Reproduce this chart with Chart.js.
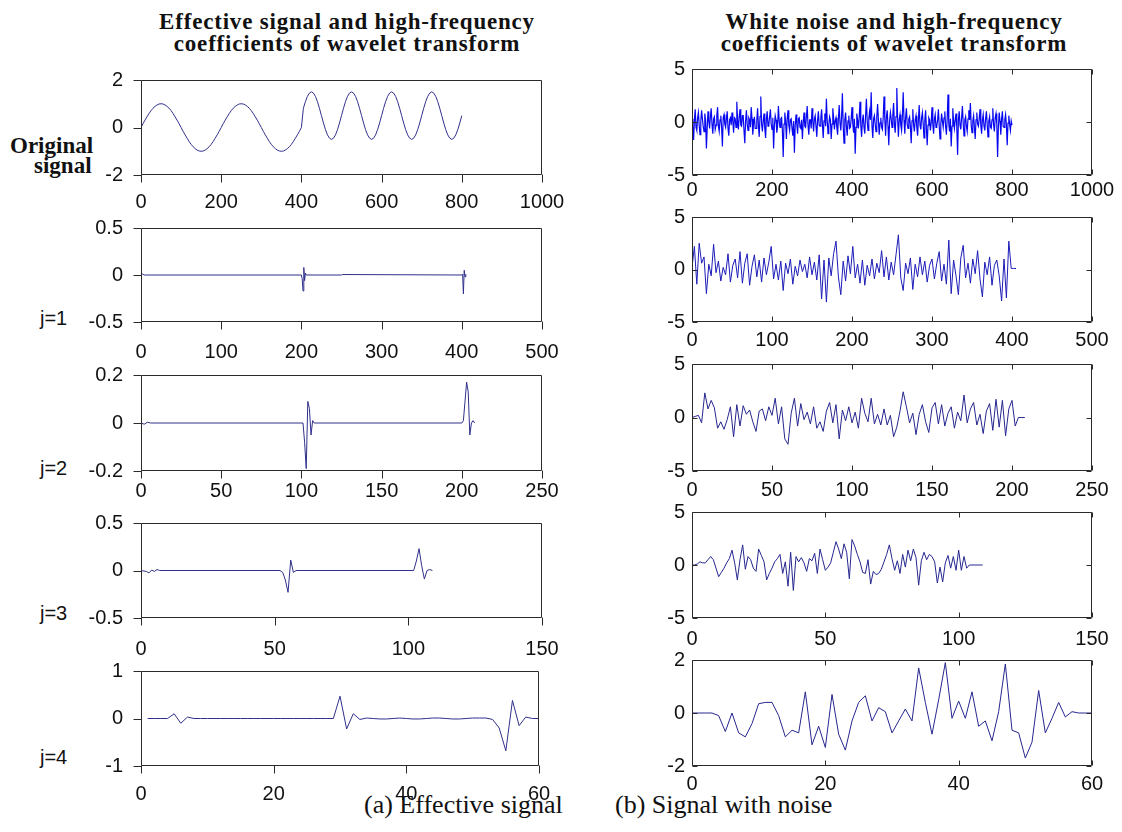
<!DOCTYPE html>
<html>
<head>
<meta charset="utf-8">
<script src="https://cdn.jsdelivr.net/npm/chart.js@4.4.1/dist/chart.umd.min.js"></script>
<style>
  body { margin: 0; background: #fff; width: 1122px; height: 832px; position: relative; overflow: hidden; }
  canvas { position: absolute; }
  .txt { position: absolute; white-space: nowrap; color: #111; }
  .ttl { font: bold 23px "Liberation Serif", "Times New Roman", serif; line-height: 22px; text-align: center; width: 560px; letter-spacing: 0.8px; }
  .side { font: bold 23px "Liberation Serif", "Times New Roman", serif; line-height: 22px; }
  .lev { font: 20px "Liberation Sans", Arial, sans-serif; line-height: 20px; }
  .cap { font: 26px "Liberation Serif", "Times New Roman", serif; line-height: 26px; }
</style>
</head>
<body>
<div class="txt ttl" style="left:67px;top:11px">Effective signal and high-frequency<br>coefficients of wavelet transform</div>
<div class="txt ttl" style="left:614px;top:11px">White noise and high-frequency<br>coefficients of wavelet transform</div>
<div class="txt side" style="left:10px;top:135px">Original</div>
<div class="txt side" style="left:34px;top:155px">signal</div>
<div class="txt lev" style="left:40px;top:308px">j=1</div>
<div class="txt lev" style="left:40px;top:458px">j=2</div>
<div class="txt lev" style="left:40px;top:603px">j=3</div>
<div class="txt lev" style="left:40px;top:747px">j=4</div>
<div class="txt cap" style="left:364px;top:792px">(a) Effective signal</div>
<div class="txt cap" style="left:615px;top:792px">(b) Signal with noise</div>

<script>
// original signal, one value every 5 samples (0..800)
const origSignal = [
  0, 0.16, 0.31, 0.45, 0.59, 0.71, 0.81, 0.89, 0.95, 0.99, 1, 0.99, 0.95, 0.89, 0.81, 0.71, 0.59, 0.45, 0.31, 0.16,
  0, -0.16, -0.31, -0.45, -0.59, -0.71, -0.81, -0.89, -0.95, -0.99, -1, -0.99, -0.95, -0.89, -0.81, -0.71, -0.59, -0.45, -0.31, -0.16,
  0, 0.16, 0.31, 0.45, 0.59, 0.71, 0.81, 0.89, 0.95, 0.99, 1, 0.99, 0.95, 0.89, 0.81, 0.71, 0.59, 0.45, 0.31, 0.16,
  0, -0.16, -0.31, -0.45, -0.59, -0.71, -0.81, -0.89, -0.95, -0.99, -1, -0.99, -0.95, -0.89, -0.81, -0.71, -0.59, -0.45, -0.31, -0.16,
  0,
  0.81, 1.09, 1.31, 1.45, 1.5, 1.45, 1.31, 1.09, 0.81, 0.5, 0.19, -0.09, -0.31, -0.45, -0.5, -0.45, -0.31, -0.09, 0.19, 0.5,
  0.81, 1.09, 1.31, 1.45, 1.5, 1.45, 1.31, 1.09, 0.81, 0.5, 0.19, -0.09, -0.31, -0.45, -0.5, -0.45, -0.31, -0.09, 0.19, 0.5,
  0.81, 1.09, 1.31, 1.45, 1.5, 1.45, 1.31, 1.09, 0.81, 0.5, 0.19, -0.09, -0.31, -0.45, -0.5, -0.45, -0.31, -0.09, 0.19, 0.5,
  0.81, 1.09, 1.31, 1.45, 1.5, 1.45, 1.31, 1.09, 0.81, 0.5, 0.19, -0.09, -0.31, -0.45, -0.5, -0.45, -0.31, -0.09, 0.19, 0.5
];

// detail coefficients of the clean signal (sample index / value)
const effJ1T = [0, 2, 4, 200, 201, 202, 203, 204, 205, 206, 250, 251, 400, 401, 402, 403, 404, 405];
const effJ1V = [0, 0.01, 0, 0, -0.04, -0.17, 0.08, -0.06, 0.02, 0, 0, 0.005, 0, 0.01, -0.2, 0.05, -0.02, 0.01];
const effJ2T = [0, 2, 4, 6, 101, 102, 103, 104, 105, 106, 107, 108, 200, 201, 202, 203, 204, 205, 206, 207, 208];
const effJ2V = [0, -0.005, 0.003, 0, 0, -0.08, -0.19, 0.09, 0.06, -0.05, 0.01, 0, 0, 0.01, 0.09, 0.17, 0.13, -0.05, 0, 0.01, 0];
const effJ3T = [0, 2, 3, 4, 5, 6, 7, 52, 53, 54, 55, 56, 57, 58, 102, 103, 104, 105, 106, 107, 108, 109];
const effJ3V = [0, -0.01, -0.025, 0.005, -0.01, 0.01, 0, 0, -0.02, -0.1, -0.23, 0.11, -0.02, 0, 0, 0.1, 0.23, 0.05, -0.09, 0, 0.01, 0];
// j=4, samples 1..60
const effJ4 = [
  0, 0, 0, 0, 0.1, -0.1, 0.03, 0, 0, 0,
  0, 0, 0, 0, 0, 0, 0, 0, 0, 0,
  0, 0, 0, 0, 0, 0, 0, 0, 0, 0.47,
  -0.22, 0.1, -0.02, 0.01, 0, -0.01, -0.01, 0, 0.01, 0,
  -0.01, -0.01, 0, 0.01, 0.01, 0, -0.01, -0.01, 0, 0.01,
  0.01, 0.01, -0.02, -0.2, -0.68, 0.38, -0.15, 0.03, 0, 0
];

// noisy signal, one value every 2 samples (0..800)
const noisy = [
  0.3, -0.4, -1.7, 0.2, 1.2, -0.5, -0.8, 0.4, 0.9, -0.3, -1.2, 0.1, 1.1, 0.3, -0.4, -0.9, 0.8, 0.2, -2.5, -0.6,
  1.0, 0.1, -0.6, 0.5, 1.3, -0.2, -1.1, 0.3, 0.5, -0.7, -0.3, 0.6, 1.4, -0.4, -0.9, 0.2, 0.6, -0.5, -2.3, 0.4,
  0.7, -0.2, -0.5, 0.3, 1.0, -0.6, -1.3, 0.2, 0.4, -0.3, 0.9, 0.1, -1.0, 0.4, 0.3, -0.5, 1.9, 0.2, -0.7, 0.5,
  1.2, -0.3, -0.4, 0.6, 0.6, -0.8, -2.0, 0.1, 1.1, -0.2, -0.8, 0.4, 0.2, -0.5, 1.4, 0.3, -1.2, -0.1, 0.5, -0.6,
  -0.6, 0.2, 1.3, -0.3, -1.4, 0.5, 2.4, -0.2, -0.9, 0.1, 0.8, -0.6, -1.5, 0.3, 1.0, -0.4, -0.3, 0.5, 1.2, -0.2,
  -0.7, 0.4, -2.5, -0.3, 0.6, 0.2, -1.0, -0.4, 1.5, 0.1, -0.5, 0.3, 0.4, -0.8, -3.3, -0.2, 0.9, 0.1, -1.6, 0.3,
  1.1, -0.3, -0.8, 0.2, 0.3, -0.6, -1.3, 0.1, -2.9, -0.4, 0.7, -0.2, -1.1, 0.3, 0.4, -0.5, -0.6, 0.2, -1.6, -0.1,
  0.9, -0.4, -0.5, 0.5, 1.5, -0.3, -1.2, 0.2, 0.2, -0.6, 1.3, 0.1, -0.9, 0.3, 0.6, -0.4, -1.4, 0.2, 1.0, -0.3,
  -0.4, 0.3, 1.2, -0.2, -1.5, 0.1, 0.8, -0.4, 2.2, 0.2, -1.1, -0.3, 0.5, 0.2, -1.6, -0.2, 1.3, 0.4, -0.7, 0.1,
  0.4, -0.5, -1.2, 0.3, 1.6, -0.1, -0.8, 0.5, 2.7, -0.3, -2.0, 0.2, 0.9, -0.4, -1.3, 0.1, 0.6, -0.6, -0.5, 0.3,
  1.4, -0.2, -1.0, 0.3, -3.0, -0.5, 0.8, 0.2, -0.6, 0.4, 1.9, -0.3, -1.4, 0.1, 0.7, -0.5, -1.1, 0.6, 2.2, 0.1,
  -0.8, 0.3, 1.0, 0.2, 2.8, -0.4, -1.5, 0.3, 0.6, -0.2, -0.9, 0.5, 1.7, 0.2, -1.2, -0.1, 0.4, -0.5, -0.7, 0.4,
  2.4, 0.3, -1.3, 0.5, 1.1, -0.4, -2.2, 0.1, 0.9, 0.3, -0.5, 0.6, 1.8, -0.2, -1.0, 0.5, 3.2, 0.4, -1.4, 0.2,
  0.7, -0.3, -0.8, 0.6, 2.8, 0.2, -1.1, 0.4, 1.3, -0.2, -0.6, 0.3, 0.5, -0.4, -2.0, 0.1, 1.2, -0.3, -0.9, 0.2,
  0.6, -0.5, -1.3, 0.2, 1.6, -0.3, -0.7, 0.4, 0.9, -0.2, -1.5, 0.1, 1.1, -0.6, -2.2, -0.3, 0.4, 0.2, -0.8, -0.1,
  1.4, -0.2, -1.1, 0.3, 0.7, -0.5, -0.4, 0.2, 1.2, -0.3, -1.6, -0.2, 0.8, 0.1, -0.5, 0.4, 1.0, -0.4, -1.2, 0.3,
  2.6, -0.2, -0.9, 0.3, -2.3, -0.4, 1.3, 0.1, -0.6, 0.2, 0.8, -0.5, -3.1, 0.2, 1.0, -0.3, -0.7, 0.4, 1.5, -0.1,
  -1.3, 0.2, 0.5, -0.4, -0.9, 0.3, 1.1, 0.2, 1.8, -0.3, -1.0, 0.1, 0.6, -0.5, -1.6, 0.2, 0.9, -0.2, -0.4, 0.3,
  1.2, -0.3, -1.1, 0.2, 0.7, -0.4, -0.8, 0.3, 1.0, -0.2, -1.4, 0.1, 0.5, -0.5, -0.6, 0.2, 1.3, -0.3, -0.9, 0.4,
  0.8, -0.2, -3.3, -0.4, 0.9, 0.1, -1.2, 0.3, 1.0, -0.4, -0.5, 0.2, 0.7, -0.3, -2.2, -0.1, 0.6, -0.2, -0.8, 0.1,
  -0.3
];

// detail coefficients of the noisy signal
const noisyJ1 = [ // every 3 samples, 0..405
  0.2, 2.2, -1.4, 2.5, 0.6, 1.2, -2.3, 0.5, -0.6, 2.4,
  -0.3, 0.8, -1.1, 0.2, -0.5, 1.5, -1.2, 0.4, 1.0, -0.8,
  1.7, -1.3, 0.6, 1.5, -1.5, 0.3, 1.4, -0.7, 0.9, -1.2,
  1.1, -0.5, 0.7, 2.2, -0.9, 0.5, -1.0, 0.8, -2.0, 0.6,
  -0.4, 1.0, -1.4, 0.3, -0.6, 0.9, -0.2, 0.5, -0.8, 1.2,
  -0.5, 0.7, -1.0, 1.4, -2.8, 0.9, -3.1, 1.1, -0.6, 1.5,
  2.7, -0.7, -2.4, 0.8, -1.1, 1.3, -0.4, 2.2, -0.8, 0.5,
  -1.3, 0.9, -1.5, 0.4, -0.6, 1.0, -0.9, 0.6, -0.3, 1.8,
  -0.7, 1.2, -1.0, 0.7, -0.5, 1.4, 3.3, -0.8, -2.0, 0.6,
  -0.4, 1.1, -1.9, 0.5, -0.7, 1.2, -0.5, 0.8, -1.2, 0.4,
  1.0, -0.9, 0.6, 1.7, -1.1, 0.5, -1.4, 2.8, -2.3, 0.9,
  -0.6, -2.4, 1.1, 2.3, -0.8, 0.6, -1.3, 1.0, -0.4, 1.8,
  -0.9, -2.6, 0.7, -0.5, 1.2, -1.5, 0.4, 0.9, -0.6, -3.0,
  1.0, -2.7, 2.7, 0.1, 0.1, 0.1
];
const noisyJ2 = [ // every 2 samples, 0..208
  0, 0.1, 0.2, -0.5, 2.3, 0.8, 1.6, 0.9, -1.0, -0.4,
  -1.1, -0.2, 1.0, -1.8, 1.2, -0.8, 1.1, 0.3, 0.7, -0.4,
  -1.3, 0.6, 0.8, -0.3, 1.0, 0.2, 1.8, -0.6, 1.0, -2.0,
  -2.5, 0.4, 1.8, -0.8, 1.3, -0.2, 0.5, -0.6, 1.0, -1.0,
  -0.4, -1.3, 0.6, 1.4, -0.5, 1.2, -2.0, 0.7, -0.3, 1.0,
  -0.5, 0.5, -1.0, 1.8, 0.4, -0.4, 1.8, -0.6, 0.3, -0.7,
  0.8, -0.7, 0.2, -1.8, -0.9, 0.6, 2.4, 1.0, -0.5, 0.4,
  -1.6, 0.3, 1.2, -0.4, -1.4, 0.9, 1.4, -0.6, 1.2, -0.8,
  0.4, 1.0, -1.0, 0.5, -0.3, 2.1, -0.5, 0.8, 1.4, -0.7,
  0.3, -1.5, 0.6, 1.3, -1.2, 1.7, -0.9, 1.6, -1.7, 0.8,
  1.6, -0.8, 0, 0, 0
];
const noisyJ3 = [ // every sample, 0..109
  0, 0, 0.1, 0.3, 0.2, 0.2, 0.5, 0.8, 0.5, -0.3,
  -1.1, -0.7, -0.3, 0.2, 0.6, 1.4, 0.2, -1.4, 0.5, 1.9,
  -0.4, 0.8, 0.5, -0.3, -0.6, 1.5, 0.9, 0.3, -1.4, -0.8,
  -0.3, 0.3, 0.6, 1.0, -0.8, 0.3, -2.0, 1.2, -2.4, 0.8,
  0.3, 0.7, 0.2, -0.6, 0.6, 0.4, 1.1, -0.8, 1.5, 0.5,
  -0.5, -0.2, 0.2, 1.2, 2.2, 1.5, 0.6, 2.0, 1.2, -1.3,
  2.4, 1.8, 1.0, 0.3, -0.7, -0.8, 0.5, -1.8, -0.6, -0.9,
  -0.8, -0.4, 0.3, 1.0, 1.9, 0.6, -0.5, 0.4, -0.8, 1.0,
  -0.2, 1.4, 0.4, 1.5, 0.7, -1.9, 0.4, 1.2, 0.5, 1.0,
  0.8, 0.3, -1.7, -0.2, -1.6, 0.2, 0.9, -0.3, 0.8, -0.5,
  1.4, -0.5, 0.8, -0.3, 0, 0, 0, 0, 0, 0
];
const noisyJ4 = [ // every sample, 0..60
  0, 0, 0, 0, -0.1, -0.7, 0, -0.75, -0.9, -0.4,
  0.35, 0.4, 0.4, -0.1, -0.9, -0.65, -0.75, 0.8, -1.2, -0.5,
  -1.3, 0.7, -0.8, -1.4, -0.3, 0.4, 0.65, -0.3, 0.2, 0.05,
  -0.75, -0.3, 0.15, -0.3, 1.7, 0.4, -0.8, 0.5, 1.9, -0.2,
  0.45, -0.2, 0.8, -0.5, -0.3, -1.05, 0.05, 1.85, -0.65, -0.75,
  -1.7, -1.1, 0.85, -0.75, -0.2, 0.4, -0.15, 0.05, 0, 0,
  0
];

// axis ranges: [min, max, step]
const xRanges = [[0, 1000, 200], [0, 500, 100], [0, 250, 50], [0, 150, 50], [0, 60, 20]];
const yLeft = [[-2, 2, 2], [-0.5, 0.5, 0.5], [-0.2, 0.2, 0.2], [-0.5, 0.5, 0.5], [-1, 1, 1]];
const yRight = [[-5, 5, 5], [-5, 5, 5], [-5, 5, 5], [-5, 5, 5], [-2, 2, 2]];

function stepped(vals, step, start = 0) {
  return vals.map((v, i) => ({ x: start + i * step, y: v }));
}
function paired(ts, vs) {
  return ts.map((t, i) => ({ x: t, y: vs[i] }));
}

const leftSeries = [
  stepped(origSignal, 5),
  paired(effJ1T, effJ1V),
  paired(effJ2T, effJ2V),
  paired(effJ3T, effJ3V),
  stepped(effJ4, 1, 1)
];
const rightSeries = [
  stepped(noisy, 2),
  stepped(noisyJ1, 3),
  stepped(noisyJ2, 2),
  stepped(noisyJ3, 1),
  stepped(noisyJ4, 1)
];

// frame plus tick marks: left column has outward ticks, right column inward ticks on all sides
const frame = {
  id: 'frame',
  afterDatasetsDraw(chart, args, o) {
    const { ctx, chartArea: a, scales: { x, y } } = chart;
    const L = Math.round(a.left) + 0.5, R = Math.round(a.right) - 0.5;
    const T = Math.round(a.top) + 0.5, B = Math.round(a.bottom) - 0.5;
    ctx.save();
    ctx.strokeStyle = '#2a2a2a';
    ctx.lineWidth = 1;
    ctx.beginPath();
    ctx.rect(L, T, R - L, B - T);
    x.ticks.forEach(t => {
      const px = Math.round(x.getPixelForValue(t.value)) + 0.5;
      if (o.outward) {
        ctx.moveTo(px, B); ctx.lineTo(px, B + o.len);
      } else {
        ctx.moveTo(px, B); ctx.lineTo(px, B - o.len);
        ctx.moveTo(px, T); ctx.lineTo(px, T + o.len);
      }
    });
    y.ticks.forEach(t => {
      const py = Math.round(y.getPixelForValue(t.value)) + 0.5;
      if (o.outward) {
        ctx.moveTo(L, py); ctx.lineTo(L - o.len, py);
      } else {
        ctx.moveTo(L, py); ctx.lineTo(L + o.len, py);
        ctx.moveTo(R, py); ctx.lineTo(R - o.len, py);
      }
    });
    ctx.stroke();
    ctx.restore();
  }
};

const rowTop = [64, 212, 359, 507, 655];
const rowBottom = [175, 322, 471, 618, 766];
const leftGap = [15, 18, 8, 19, 16];
const rightGap = [3, 6, 7, 9, 6];
const tickFont = { family: '"Liberation Sans", Arial, sans-serif', size: 20 };
const fmt = v => String(+v.toFixed(2));

function drawPanel(box, xr, yr, data, color, width, side, gap) {
  const [l, t, r, b] = box;
  const padL = 64, padR = 44, padT = 14, padB = 44;
  const w = r - l + padL + padR, h = b - t + padT + padB;
  const c = document.createElement('canvas');
  c.width = w; c.height = h;
  c.style.left = (l - padL) + 'px';
  c.style.top = (t - padT) + 'px';
  c.style.width = w + 'px';
  c.style.height = h + 'px';
  document.body.appendChild(c);
  const outward = side === 'L';
  new Chart(c, {
    type: 'line',
    data: { datasets: [{ data: data, borderColor: color, borderWidth: width, pointRadius: 0, tension: 0, fill: false }] },
    options: {
      responsive: false,
      animation: false,
      events: [],
      layout: { padding: { left: 0, right: padR, top: padT, bottom: 0 } },
      plugins: {
        legend: { display: false },
        tooltip: { enabled: false },
        frame: { outward: outward, len: outward ? 8 : 5 }
      },
      scales: {
        x: {
          type: 'linear', min: xr[0], max: xr[1],
          grid: { display: false, drawTicks: false },
          border: { display: false },
          ticks: { stepSize: xr[2], autoSkip: false, maxRotation: 0, padding: gap, color: '#111', font: tickFont, callback: fmt },
          afterFit: s => { s.height = padB; }
        },
        y: {
          min: yr[0], max: yr[1],
          grid: { display: false, drawTicks: false },
          border: { display: false },
          ticks: { stepSize: yr[2], autoSkip: false, padding: outward ? 18 : 7, color: '#111', font: tickFont, callback: fmt },
          afterFit: s => { s.width = padL; }
        }
      }
    },
    plugins: [frame]
  });
}

const rightColors = ['#0808f0', '#1c1cb8', '#26268f', '#26268f', '#26268f'];
for (let k = 0; k < 5; k++) {
  const lr = k === 4 ? 539 : 542;
  drawPanel([141, rowTop[k], lr, rowBottom[k]], xRanges[k], yLeft[k], leftSeries[k], '#30308c', 1, 'L', leftGap[k]);
  drawPanel([692, rowTop[k], 1092, rowBottom[k]], xRanges[k], yRight[k], rightSeries[k], rightColors[k], k === 0 ? 1.2 : 1, 'R', rightGap[k]);
}
</script>
</body>
</html>
